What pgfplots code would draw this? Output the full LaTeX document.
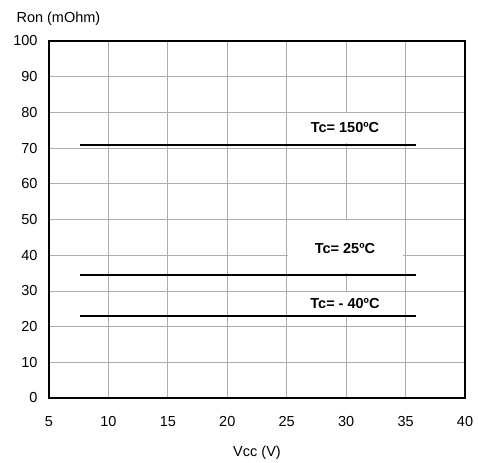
\documentclass[border=0pt]{standalone}
\usepackage{fontspec}
\setmainfont{Liberation Sans}
\usepackage{pgfplots}
\pgfplotsset{compat=1.18}
\begin{document}
\begin{tikzpicture}
\begin{axis}[
  scale only axis,
  width=416pt, height=357pt,
  xmin=5, xmax=40, ymin=0, ymax=100,
  xtick={5,10,...,40}, ytick={0,10,...,100},
  grid=major,
  major grid style={draw=black!32, line width=0.8pt},
  axis line style={line width=1.2pt},
  tick style={draw=none},
  /pgf/number format/assume math mode=true,
  ticklabel style={font=\fontsize{14.5}{16}\selectfont},
  xticklabel style={yshift=-15pt},
  yticklabel style={xshift=-8pt},
  xlabel={Vcc (V)},
  xlabel style={font=\fontsize{14.5}{16}\selectfont, yshift=-12pt},
  clip=false,
]
\fill[white] (axis cs:25.1,71.4) rectangle (axis cs:34.8,79.8);
\fill[white] (axis cs:25.1,35.1) rectangle (axis cs:34.8,49.8);
\fill[white] (axis cs:25.1,23.3) rectangle (axis cs:34.8,29.8);
\addplot[black, line width=1.6pt] coordinates {(7.6,70.9) (35.9,70.9)};
\addplot[black, line width=1.6pt] coordinates {(7.6,34.5) (35.9,34.5)};
\addplot[black, line width=1.6pt] coordinates {(7.6,23.0) (35.9,23.0)};
\node[font=\bfseries\fontsize{14.5}{16}\selectfont] at (axis cs:29.9,75.8) {Tc= 150ºC};
\node[font=\bfseries\fontsize{14.5}{16}\selectfont] at (axis cs:29.9,42.0) {Tc= 25ºC};
\node[font=\bfseries\fontsize{14.5}{16}\selectfont] at (axis cs:29.9,26.6) {Tc= - 40ºC};
\node[font=\fontsize{14.5}{16}\selectfont, anchor=base west] at ([xshift=-36pt,yshift=18pt]rel axis cs:0,1) {Ron (mOhm)};
\end{axis}
\path (current axis.south west) ++(-49pt,-64pt) rectangle ++(478pt,462pt);
\end{tikzpicture}
\end{document}
